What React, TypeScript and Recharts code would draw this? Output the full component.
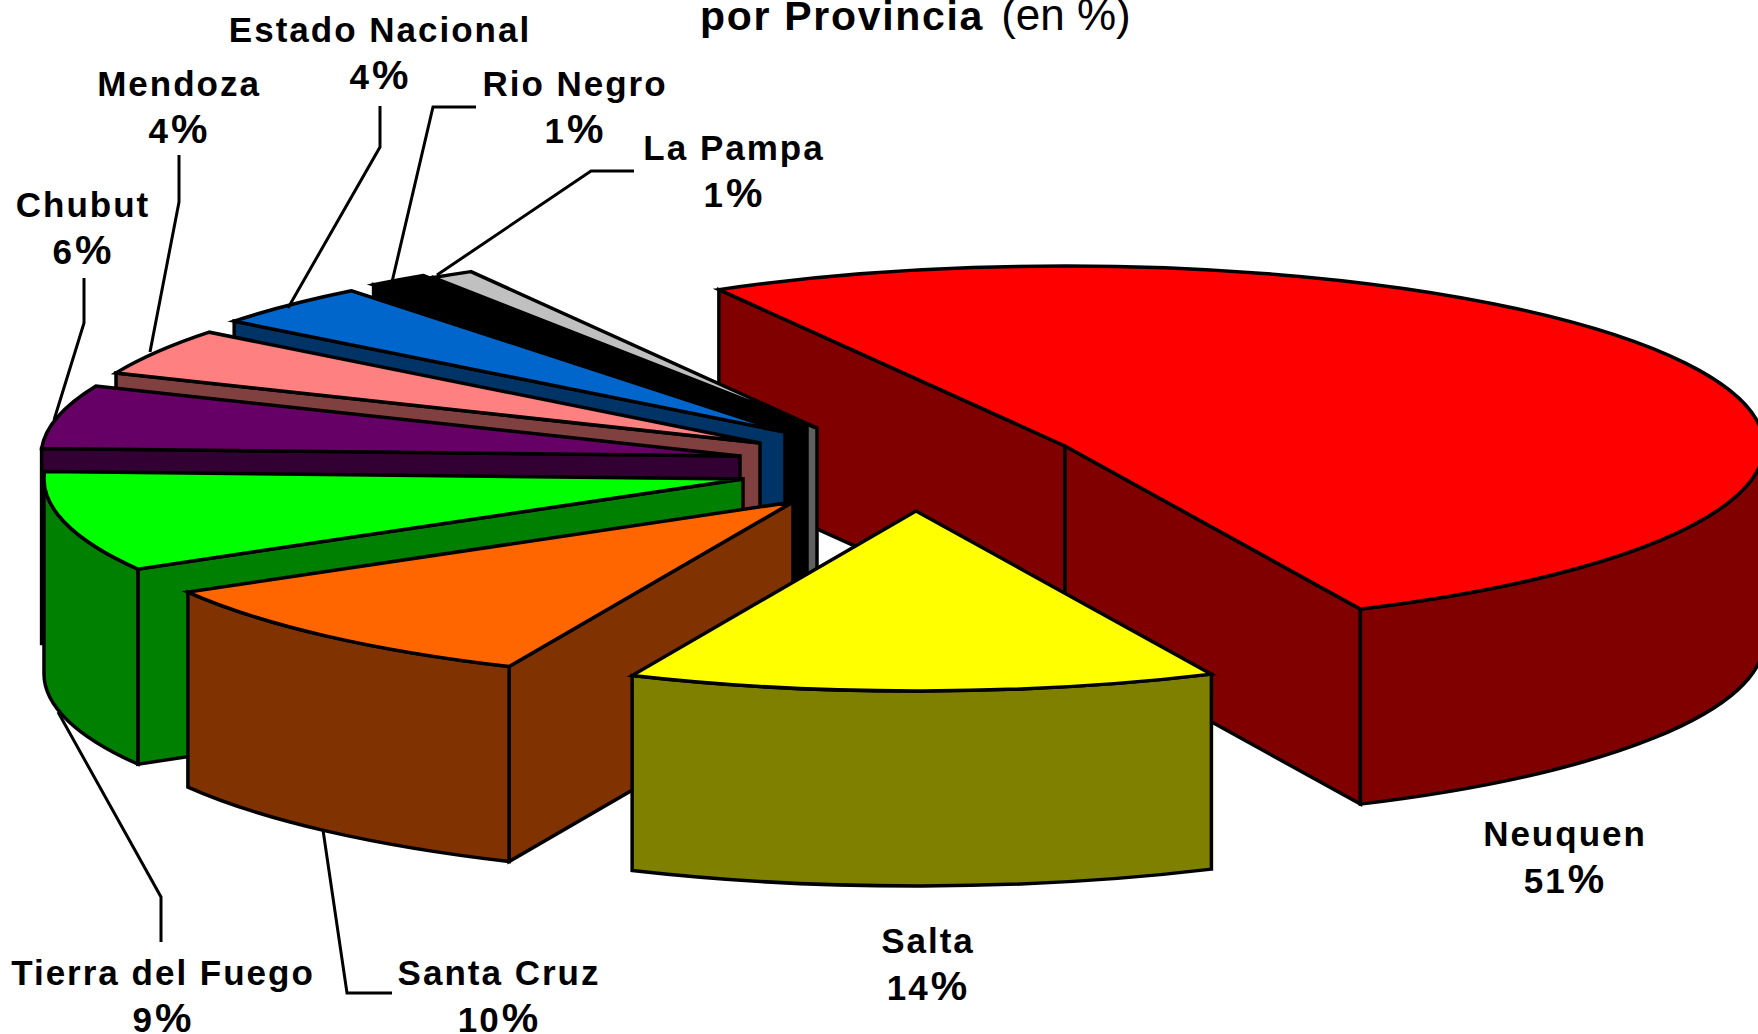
import { Pie, PieChart } from "recharts";

const WIDTH = 1758;
const HEIGHT = 1034;

// ordered back to front, so the later slices paint over the earlier ones
const provinces = ["Neuquen", "La Pampa", "Rio Negro", "Estado Nacional", "Mendoza", "Chubut", "Tierra del Fuego", "Santa Cruz", "Salta"];
const shares = [51.3, 1.0, 1.4, 3.8, 4.2, 5.7, 9.0, 10.0, 13.6];
const topColors = ["#ff0000", "#c0c0c0", "#000000", "#0066cc", "#ff8080", "#660066", "#00ff00", "#ff6600", "#ffff00"];
const wallColors = ["#800000", "#606060", "#000000", "#003366", "#804040", "#330033", "#008000", "#803300", "#808000"];

const CX = 1065;
const CY = 446;
const RX = 699;
const RY = 180;
const DEPTH = 195;
const LABEL_FONT = 35;

// exploded offset of each slice from the pie centre
const explode: Record<string, [number, number]> = {
  Neuquen: [0, 0],
  "La Pampa": [-248, -18],
  "Rio Negro": [-258, -20],
  "Estado Nacional": [-280, -14],
  Mendoza: [-305, -3],
  Chubut: [-325, 10],
  "Tierra del Fuego": [-322, 33],
  "Santa Cruz": [-272, 56],
  Salta: [-149, 65],
};

// label centre and leader line of each slice
const labelPos: Record<string, [number, number]> = {
  Neuquen: [1565, 834],
  Salta: [928, 941],
  "Santa Cruz": [499, 973],
  "Tierra del Fuego": [163, 973],
  Chubut: [83, 205],
  Mendoza: [179, 84],
  "Estado Nacional": [380, 30],
  "Rio Negro": [575, 84],
  "La Pampa": [734, 148],
};
const leaders: Record<string, [number, number][]> = {
  "Santa Cruz": [[392, 993], [347, 993], [323, 830]],
  "Tierra del Fuego": [[161, 942], [161, 897], [58, 712]],
  Chubut: [[84, 278], [84, 323], [54, 420]],
  Mendoza: [[179, 155], [179, 202], [150, 352]],
  "Estado Nacional": [[380, 106], [380, 147], [288, 308]],
  "Rio Negro": [[476, 107], [433, 107], [392, 282]],
  "La Pampa": [[634, 171], [591, 171], [437, 275]],
};

const data = provinces.map((name, i) => ({
  name,
  value: shares[i],
  fill: topColors[i],
  wall: wallColors[i],
}));

const rad = (deg: number) => (deg * Math.PI) / 180;

function ExtrudedSlice(props: any) {
  const { startAngle, endAngle, fill, payload, name } = props;
  const key = name ?? payload?.name;
  const wall = props.wall ?? payload?.wall;
  const [dx, dy] = explode[key] ?? [0, 0];
  const ax = props.cx + dx;
  const ay = props.cy + dy;
  const pt = (deg: number): [number, number] => [ax + RX * Math.cos(rad(deg)), ay - RY * Math.sin(rad(deg))];
  const [x0, y0] = pt(startAngle);
  const [x1, y1] = pt(endAngle);
  const large = endAngle - startAngle > 180 ? 1 : 0;

  const stroke = { stroke: "#000", strokeWidth: 3.5, strokeLinejoin: "miter" as const };
  const face = (x: number, y: number) => `M${ax},${ay}L${x},${y}L${x},${y + DEPTH}L${ax},${ay + DEPTH}Z`;

  // the outer wall only shows on the front half of the ellipse
  const walls: string[] = [];
  for (const [lo, hi] of [[-180, 0], [180, 360]]) {
    const a = Math.max(lo, startAngle);
    const b = Math.min(hi, endAngle);
    if (b > a) {
      const [wx0, wy0] = pt(a);
      const [wx1, wy1] = pt(b);
      walls.push(`M${wx0},${wy0}A${RX},${RY} 0 0 0 ${wx1},${wy1}L${wx1},${wy1 + DEPTH}A${RX},${RY} 0 0 1 ${wx0},${wy0 + DEPTH}Z`);
    }
  }

  return (
    <g>
      {/* a cut face is only seen when it turns towards the viewer */}
      {Math.cos(rad(endAngle)) < 0 && <path d={face(x1, y1)} fill={wall} {...stroke} />}
      {Math.cos(rad(startAngle)) > 0 && <path d={face(x0, y0)} fill={wall} {...stroke} />}
      {walls.map((d) => (
        <path key={d} d={d} fill={wall} {...stroke} />
      ))}
      <path d={`M${ax},${ay}L${x0},${y0}A${RX},${RY} 0 ${large} 0 ${x1},${y1}Z`} fill={fill} {...stroke} />
    </g>
  );
}

function SliceLabel(props: any) {
  const [x, y] = labelPos[props.name];
  const text = {
    x,
    textAnchor: "middle" as const,
    fontFamily: "Liberation Sans",
    fontWeight: 700,
    fontSize: LABEL_FONT,
    letterSpacing: 2,
    fill: "#000",
  };
  return (
    <g>
      <text {...text} y={y + 12}>{props.name}</text>
      <text {...text} y={y + 59}>
        {Math.round(props.value)}
        <tspan fontSize={41} dx={1}>%</tspan>
      </text>
    </g>
  );
}

function SliceLeader(props: any) {
  const pts = leaders[props.name];
  if (!pts) return <g />;
  return <polyline points={pts.map((p) => p.join(",")).join(" ")} fill="none" stroke="#000" strokeWidth={3} />;
}

export default function App() {
  return (
    <div style={{ position: "absolute", left: 0, top: 0, width: WIDTH, height: HEIGHT, background: "#fff", overflow: "hidden" }}>
      <PieChart width={WIDTH} height={HEIGHT} margin={{ top: 0, right: 0, bottom: 0, left: 0 }}>
        <text x={700} y={30} fontFamily="Liberation Sans" fill="#000">
          <tspan fontWeight={700} fontSize={41} letterSpacing={1.7}>por Provincia</tspan>
          <tspan dx={17} fontSize={44}>(en %)</tspan>
        </text>
        <Pie
          data={data}
          dataKey="value"
          nameKey="name"
          cx={CX}
          cy={CY}
          innerRadius={0}
          outerRadius={RX}
          startAngle={-65}
          endAngle={295}
          paddingAngle={0}
          stroke="none"
          shape={ExtrudedSlice}
          label={SliceLabel}
          labelLine={SliceLeader}
          isAnimationActive={false}
        />
      </PieChart>
    </div>
  );
}
